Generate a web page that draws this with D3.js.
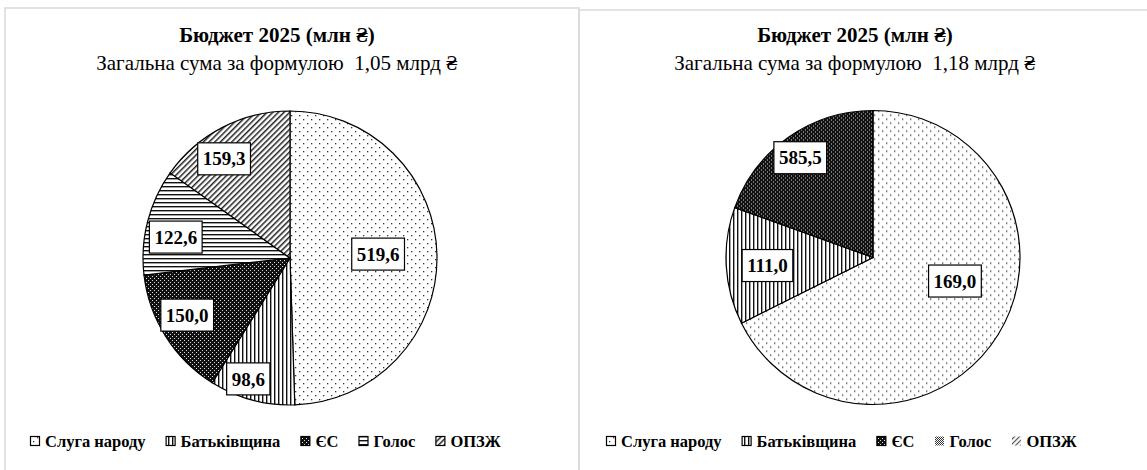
<!DOCTYPE html>
<html>
<head>
<meta charset="utf-8">
<script src="https://cdn.jsdelivr.net/npm/d3@7"></script>
<style>
  body { margin: 0; background: #fff; }
</style>
</head>
<body>
<svg id="chart" width="1147" height="470"></svg>
<script>
// Data
const parties = ["Слуга народу", "Батьківщина", "ЄС", "Голос", "ОПЗЖ"];
const chartTitle = "Бюджет 2025 (млн ₴)";
const subtitles = ["Загальна сума за формулою  1,05 млрд ₴", "Загальна сума за формулою  1,18 млрд ₴"];

const leftValues = [519.6, 98.6, 150.0, 122.6, 159.3];
const leftLabels = ["519,6", "98,6", "150,0", "122,6", "159,3"];

// slice sizes as they are drawn on the right pie (labels differ from sizes)
const rightValues = [798, 152, 230, 0, 0];
const rightLabels = ["169,0", "111,0", "585,5", "", ""];

// Layout constants
const FONT = '"Liberation Serif", "Tinos", "Times New Roman", serif';
const RADIUS = 147;
const PANELS = [
  { x: 5, y: 8, w: 574, h: 470, cx: 290, cy: 258, titleX: 277, legendX: 30,
    values: leftValues, labels: leftLabels, subtitle: subtitles[0],
    labelR: [0.6, 0.87, 0.8, 0.79, 0.81], labelShift: [-1.6, 4, 3.3, -4, -6.3],
    legendFills: ["dots", "vlines", "dark", "hlines", "diag"], legendBorder: [true, true, true, true, true] },
  { x: 579, y: 10, w: 580, h: 470, cx: 873, cy: 257.5, titleX: 855, legendX: 606,
    values: rightValues, labels: rightLabels, subtitle: subtitles[1],
    labelR: [0.58, 0.72, 0.84, 0.8, 0.8], labelShift: [-15.7, -1, -1, 0, 0],
    legendFills: ["dots", "vlines", "dark", "checker", "diagWide"], legendBorder: [true, true, true, false, false] }
];
const SLICE_FILLS = ["dots", "vlines", "dark", "hlines", "diag"];

const svg = d3.select("#chart");
const defs = svg.append("defs");

function makePatterns() {
  // sparse dots
  let p = defs.append("pattern").attr("id", "dots").attr("patternUnits", "userSpaceOnUse")
    .attr("width", 8).attr("height", 8);
  p.append("rect").attr("width", 8).attr("height", 8).attr("fill", "#fff");
  p.append("rect").attr("x", 1).attr("y", 1).attr("width", 1.3).attr("height", 1.3).attr("fill", "#333");
  p.append("rect").attr("x", 5).attr("y", 5).attr("width", 1.3).attr("height", 1.3).attr("fill", "#333");

  // vertical lines
  p = defs.append("pattern").attr("id", "vlines").attr("patternUnits", "userSpaceOnUse")
    .attr("width", 4).attr("height", 4);
  p.append("rect").attr("width", 4).attr("height", 4).attr("fill", "#fff");
  p.append("rect").attr("width", 1.4).attr("height", 4).attr("fill", "#111");

  // horizontal lines
  p = defs.append("pattern").attr("id", "hlines").attr("patternUnits", "userSpaceOnUse")
    .attr("width", 4).attr("height", 4);
  p.append("rect").attr("width", 4).attr("height", 4).attr("fill", "#fff");
  p.append("rect").attr("width", 4).attr("height", 1.4).attr("fill", "#111");

  // dark with white dots
  p = defs.append("pattern").attr("id", "dark").attr("patternUnits", "userSpaceOnUse")
    .attr("width", 4).attr("height", 4);
  p.append("rect").attr("width", 4).attr("height", 4).attr("fill", "#111");
  p.append("rect").attr("x", 0).attr("y", 0).attr("width", 1).attr("height", 1).attr("fill", "#ddd");
  p.append("rect").attr("x", 2).attr("y", 2).attr("width", 1).attr("height", 1).attr("fill", "#ddd");

  // diagonal "/"
  p = defs.append("pattern").attr("id", "diag").attr("patternUnits", "userSpaceOnUse")
    .attr("width", 4).attr("height", 4).attr("patternTransform", "rotate(45)");
  p.append("rect").attr("width", 4).attr("height", 4).attr("fill", "#fff");
  p.append("rect").attr("width", 1.5).attr("height", 4).attr("fill", "#222");

  p = defs.append("pattern").attr("id", "diagWide").attr("patternUnits", "userSpaceOnUse")
    .attr("width", 3.5).attr("height", 3.5).attr("patternTransform", "rotate(45)");
  p.append("rect").attr("width", 3.5).attr("height", 3.5).attr("fill", "#fff");
  p.append("rect").attr("width", 1.2).attr("height", 3.5).attr("fill", "#555");

  // checker
  p = defs.append("pattern").attr("id", "checker").attr("patternUnits", "userSpaceOnUse")
    .attr("width", 2).attr("height", 2);
  p.append("rect").attr("width", 2).attr("height", 2).attr("fill", "#fff");
  p.append("rect").attr("width", 1).attr("height", 1).attr("fill", "#333");
  p.append("rect").attr("x", 1).attr("y", 1).attr("width", 1).attr("height", 1).attr("fill", "#333");
}

function drawPanel(panel) {
  // frame
  svg.append("rect")
    .attr("x", panel.x).attr("y", panel.y)
    .attr("width", panel.w).attr("height", panel.h)
    .attr("fill", "none").attr("stroke", "#d9d9d9").attr("stroke-width", 1.5);

  // titles
  svg.append("text")
    .attr("x", panel.titleX).attr("y", 42)
    .attr("text-anchor", "middle")
    .style("font-family", FONT)
    .attr("font-size", 21).attr("font-weight", "bold")
    .text(chartTitle);
  svg.append("text")
    .attr("x", panel.titleX).attr("y", 70)
    .attr("text-anchor", "middle")
    .style("font-family", FONT)
    .attr("font-size", 21)
    .style("white-space", "pre")
    .text(panel.subtitle);

  const pie = d3.pie().sort(null).value((d) => d);
  const arcs = pie(panel.values);
  const arc = d3.arc().innerRadius(0).outerRadius(RADIUS);

  const group = svg.append("g").attr("transform", `translate(${panel.cx}, ${panel.cy})`);

  group.selectAll(".slice")
    .data(arcs.filter((d) => d.value > 0))
    .enter()
    .append("path")
    .attr("class", "slice")
    .attr("d", arc)
    .attr("fill", (d) => `url(#${SLICE_FILLS[d.index]})`)
    .attr("stroke", "#000")
    .attr("stroke-width", 1.2);

  // data labels in white boxes
  arcs.forEach((d, i) => {
    if (!panel.labels[i]) return;
    const mid = (d.startAngle + d.endAngle) / 2 + (panel.labelShift[i] * Math.PI) / 180;
    const r = RADIUS * panel.labelR[i];
    const x = Math.sin(mid) * r;
    const y = -Math.cos(mid) * r;
    const lg = group.append("g").attr("transform", `translate(${x}, ${y})`);
    const box = lg.append("rect");
    const txt = lg.append("text")
      .attr("text-anchor", "middle")
      .attr("dy", "0.35em")
      .style("font-family", FONT)
      .attr("font-size", 19).attr("font-weight", "bold")
      .text(panel.labels[i]);
    const bb = txt.node().getBBox();
    box.attr("x", bb.x - 5).attr("y", -16)
      .attr("width", bb.width + 10).attr("height", 32)
      .attr("fill", "#fff").attr("stroke", "#000").attr("stroke-width", 1.2);
  });

  // legend
  let lx = panel.legendX;
  parties.forEach((name, i) => {
    svg.append("rect")
      .attr("x", lx + 0.5).attr("y", 436.5)
      .attr("width", 9).attr("height", 9)
      .attr("fill", `url(#${panel.legendFills[i]})`)
      .attr("stroke", panel.legendBorder[i] ? "#000" : "none")
      .attr("stroke-width", 1.2);
    const t = svg.append("text")
      .attr("x", lx + 15).attr("y", 447)
      .style("font-family", FONT)
      .attr("font-size", 16.5).attr("font-weight", "bold")
      .text(name);
    lx += 15 + t.node().getComputedTextLength() + 20;
  });
}

makePatterns();
PANELS.forEach(drawPanel);
</script>
</body>
</html>
